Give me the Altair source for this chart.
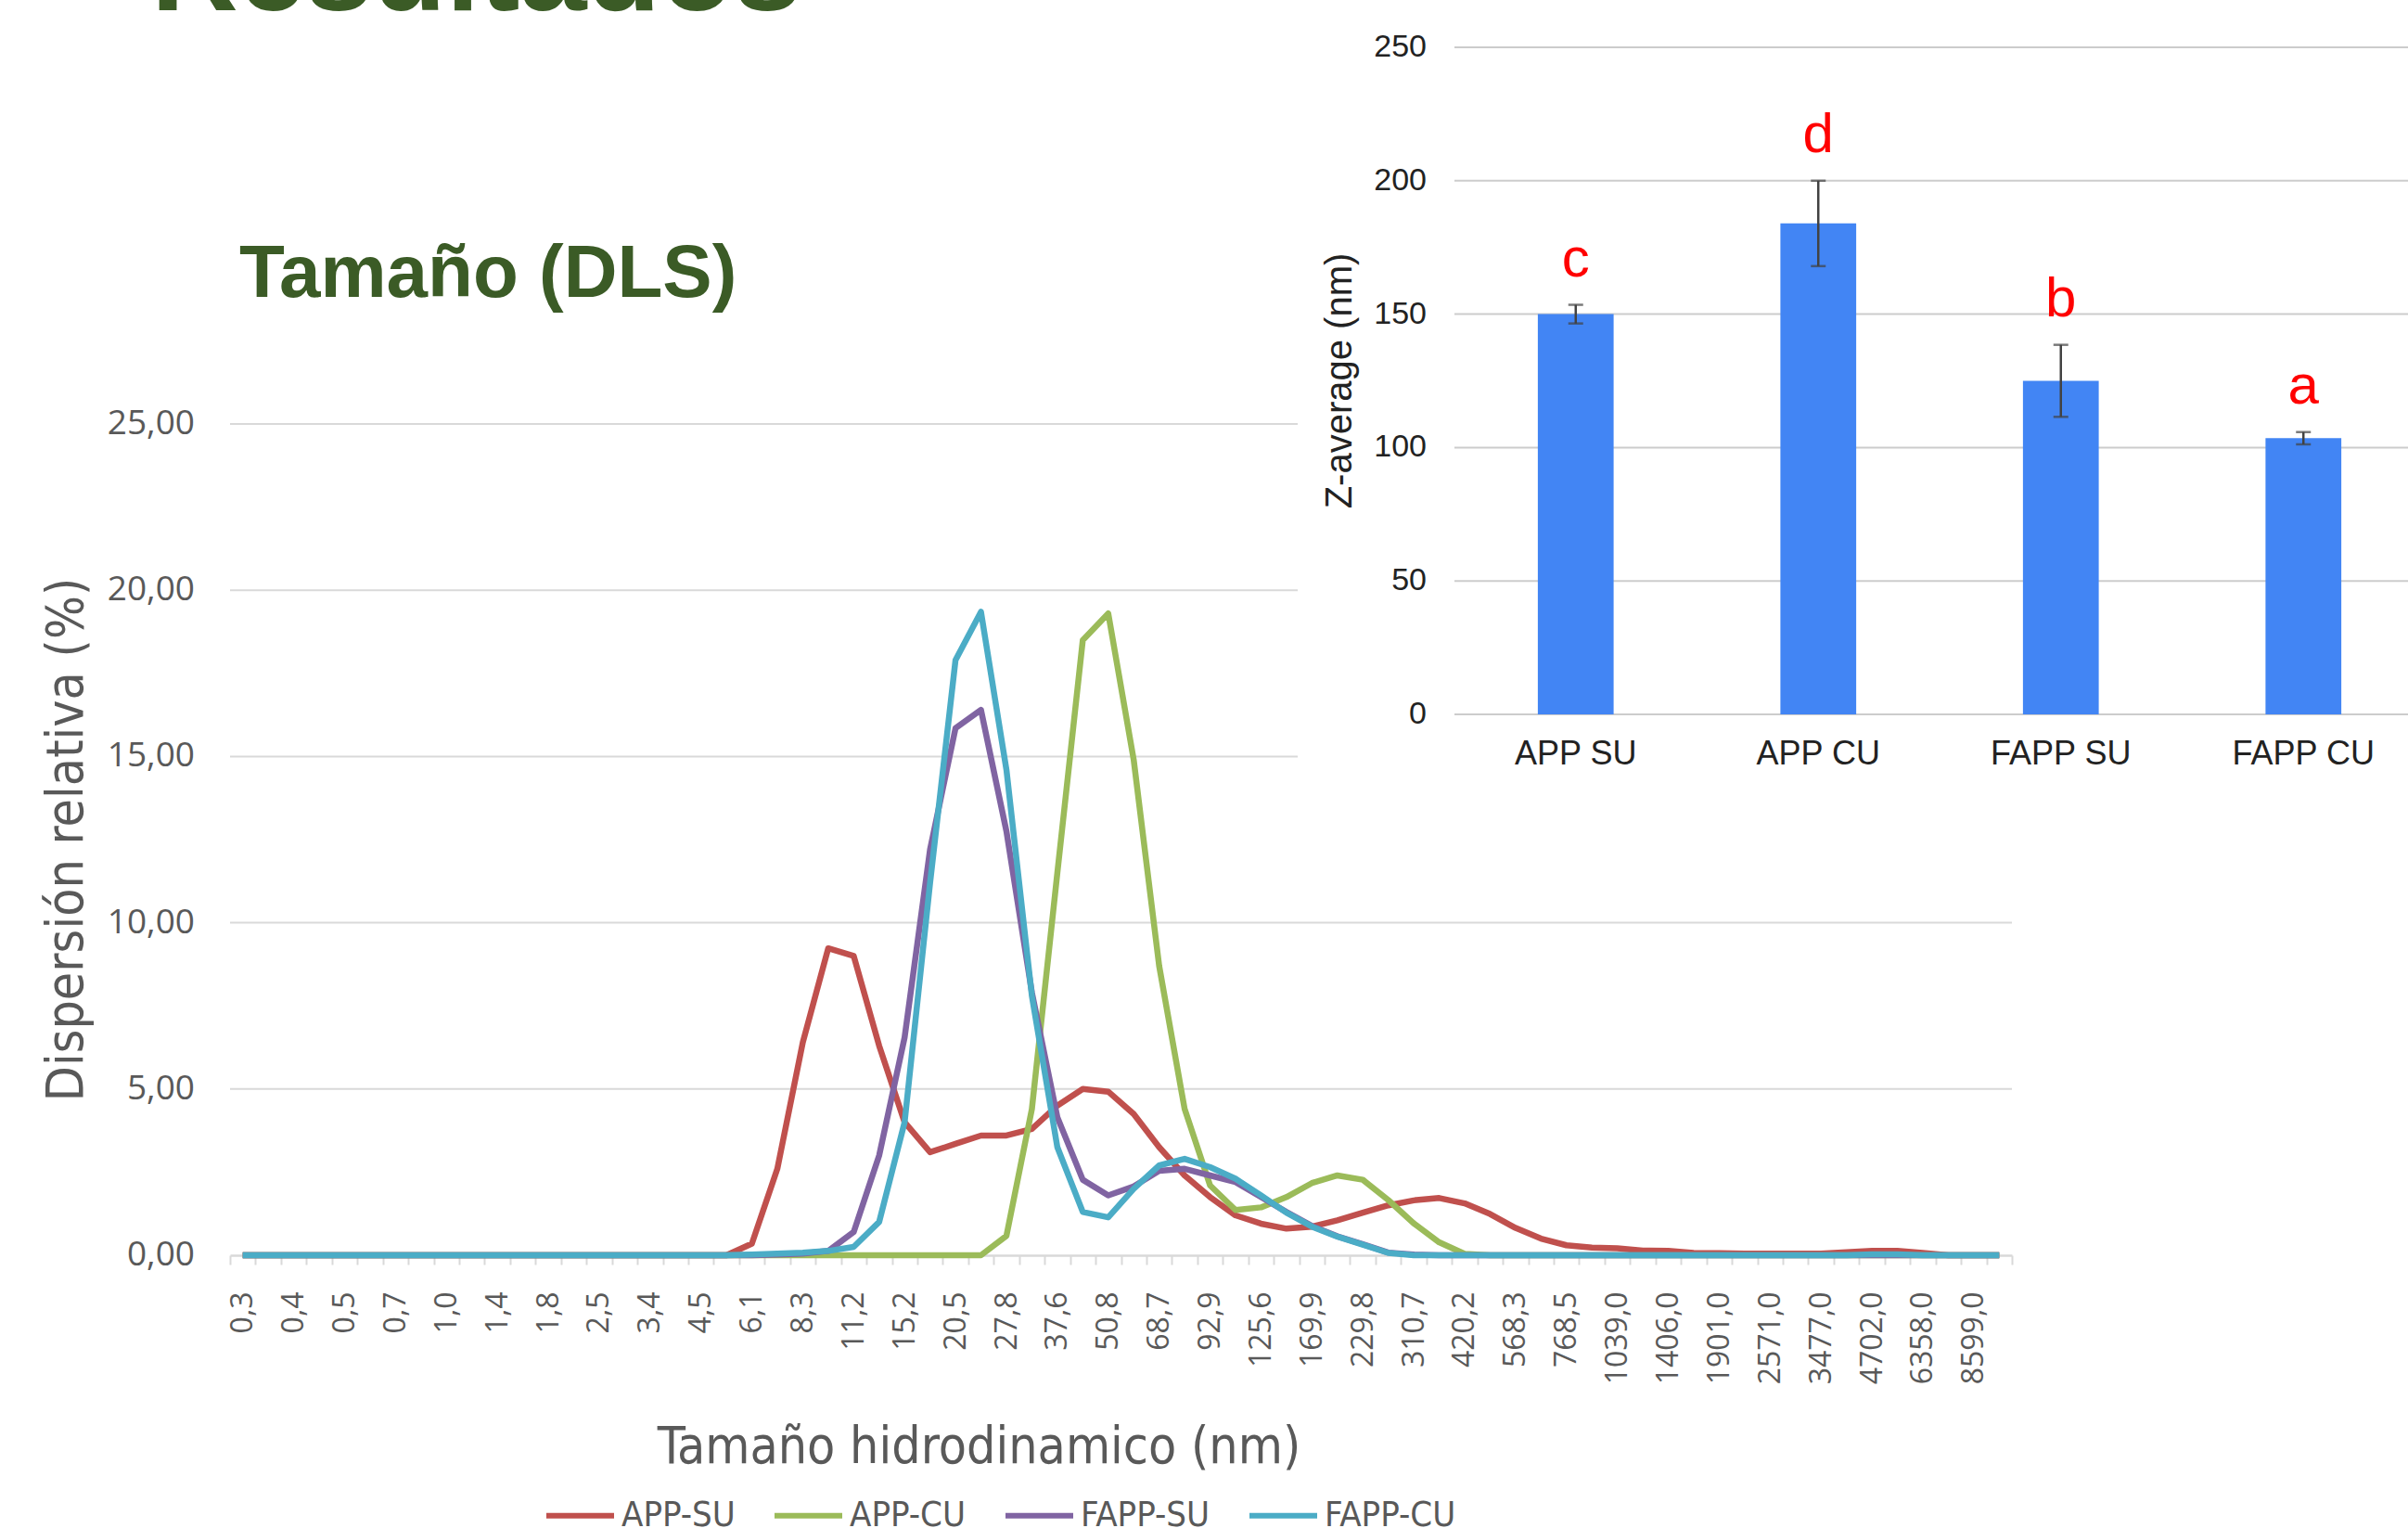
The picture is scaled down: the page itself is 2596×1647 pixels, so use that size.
import altair as alt
import pandas as pd

# ---------------- data ----------------
cats = ['0,3','0,35','0,4','0,47','0,5','0,6','0,7','0,8','1,0','1,2','1,4','1,6','1,8','2,1','2,5','2,9',
        '3,4','3,9','4,5','5,3','6,1','7,1','8,3','9,6','11,2','13,0','15,2','17,6','20,5','23,9','27,8',
        '32,3','37,6','43,7','50,8','59,1','68,7','79,9','92,9','108,0','125,6','146,1','169,9','197,6',
        '229,8','267,2','310,7','361,3','420,2','488,7','568,3','660,9','768,5','893,7','1039,0','1209,0',
        '1406,0','1635,0','1901,0','2211,0','2571,0','2990,0','3477,0','4044,0','4702,0','5468,0','6358,0',
        '7394,0','8599,0','10000,0']
shown_labels = cats[::2]

app_su = [0]*20 + [0.35, 2.6, 6.4, 9.23, 9.0, 6.3, 4.0, 3.1, 3.35, 3.6, 3.6, 3.8, 4.5, 5.0, 4.92, 4.25,
                   3.25, 2.4, 1.75, 1.2, 0.95, 0.8, 0.86, 1.05, 1.28, 1.5, 1.65, 1.72, 1.56, 1.24, 0.82,
                   0.5, 0.3, 0.23, 0.21, 0.14, 0.13, 0.07, 0.06, 0.05, 0.05, 0.05, 0.05, 0.09, 0.13, 0.13,
                   0.07, 0, 0, 0]
app_cu = [0]*30 + [0.58, 4.4, 11.5, 18.5, 19.3, 14.9, 8.7, 4.4, 2.1, 1.36, 1.44, 1.75, 2.17, 2.4, 2.27,
                   1.66, 0.96, 0.39, 0.04] + [0]*21
fapp_su = [0]*21 + [0.02, 0.05, 0.13, 0.7, 3.0, 6.55, 12.2, 15.85, 16.4, 12.75, 7.9, 4.15, 2.27, 1.8,
                    2.07, 2.54, 2.6, 2.4, 2.2, 1.75, 1.3, 0.88, 0.57, 0.33, 0.08, 0.02] + [0]*23
fapp_cu = [0]*20 + [0.02, 0.05, 0.08, 0.13, 0.25, 1.0, 4.0, 11.2, 17.9, 19.35, 14.6, 7.8, 3.25, 1.3,
                    1.14, 2.0, 2.7, 2.9, 2.65, 2.3, 1.8, 1.28, 0.86, 0.56, 0.32, 0.07] + [0]*18 \
          + [0.03, 0.03] + [0]*4

series_names = ['APP-SU', 'APP-CU', 'FAPP-SU', 'FAPP-CU']
series_colors = ['#C0504D', '#9BBB59', '#8064A2', '#4BACC6']

line_yticks = [0, 5, 10, 15, 20, 25]
line_ytick_labels = ['0,00', '5,00', '10,00', '15,00', '20,00', '25,00']

samples = ['APP SU', 'APP CU', 'FAPP SU', 'FAPP CU']
zavg = [150, 184, 125, 103.5]
zerr = [3.5, 16, 13.5, 2.3]
letters = ['c', 'd', 'b', 'a']
bar_yticks = [0, 50, 100, 150, 200, 250]

# ---------------- layout ----------------
W, H = 2596, 1647
LX0, LX1, LXS = 248, 2169, 1399     # line-chart plot area (x), short grid end
LY0, LY25 = 1353, 457               # y pixel of 0 and 25
BX0, BX1 = 1568, 2614               # bar chart category range
BY0, BY250 = 770, 51                # y pixel of 0 and 250
NARROW = "'Liberation Sans Narrow', 'DejaVu Sans Condensed', sans-serif"
GREEN = '#3B5B26'
GREY = '#595959'
DARK = '#222222'

rows = []
for name, vals in zip(series_names, [app_su, app_cu, fapp_su, fapp_cu]):
    for c, v in zip(cats, vals):
        rows.append({'cat': c, 'serie': name, 'value': v})
line_df = pd.DataFrame(rows)

xs = alt.Scale(type='band', domain=cats, range=[LX0, LX1], paddingInner=0, paddingOuter=0)
ys = alt.Scale(domain=[0, 25], range=[LY0, LY25], nice=False, zero=True)

shown_js = "[" + ",".join("'%s'" % s for s in shown_labels) + "]"

ytick_df = pd.DataFrame({'value': line_yticks, 'lab': line_ytick_labels})

grid_full = alt.Chart(ytick_df).transform_filter('datum.value > 0 && datum.value <= 10').mark_rule(
    color='#D9D9D9', strokeWidth=2).encode(
    y=alt.Y('value:Q', scale=ys, axis=None), x=alt.value(LX0), x2=alt.value(LX1))
grid_short = alt.Chart(ytick_df).transform_filter('datum.value > 10').mark_rule(
    color='#D9D9D9', strokeWidth=2).encode(
    y=alt.Y('value:Q', scale=ys, axis=None), x=alt.value(LX0), x2=alt.value(LXS))
ylabels = alt.Chart(ytick_df).mark_text(
    font='Open Sans', fontSize=37, color=GREY, align='right', baseline='middle').encode(
    y=alt.Y('value:Q', scale=ys, axis=None), x=alt.value(LX0 - 38), text='lab:N')
ytitle = alt.Chart(pd.DataFrame({'t': ['Dispersión relativa (%)']})).mark_text(
    font=NARROW, fontSize=55, color=GREY, angle=270, align='center', baseline='middle').encode(
    x=alt.value(72), y=alt.value((LY0 + LY25) / 2), text='t:N')

lines = alt.Chart(line_df).mark_line(strokeWidth=6.5, strokeJoin='round').encode(
    x=alt.X('cat:O', sort=cats, scale=xs, axis=alt.Axis(
        orient='bottom', offset=LY0 - H, labelAngle=-90,
        labelExpr=f"indexof({shown_js}, datum.value) >= 0 ? datum.value : ''",
        labelOverlap=False, labelFont='Open Sans', labelFontSize=32, labelColor=GREY,
        labelPadding=29, tickBand='extent', tickSize=10, tickColor='#D9D9D9', tickWidth=2,
        domainColor='#D9D9D9', domainWidth=2.5, grid=False,
        title='Tamaño hidrodinamico (nm)', titleFont=NARROW, titleFontSize=55,
        titleFontWeight='normal', titleColor=GREY, titleX=1055, titleY=223,
        titleBaseline='alphabetic', titleAlign='center')),
    y=alt.Y('value:Q', scale=ys, axis=None),
    color=alt.Color('serie:N', scale=alt.Scale(domain=series_names, range=series_colors),
                    legend=alt.Legend(orient='none', legendX=586, legendY=1594,
                                      direction='horizontal', title=None, symbolType='stroke',
                                      symbolSize=5329, symbolStrokeWidth=6, labelFont=NARROW,
                                      labelFontSize=38, labelColor=GREY, columnPadding=30,
                                      labelOffset=5, padding=0)),
)
line_layer = alt.layer(grid_full, grid_short, ylabels, ytitle, lines)

# ---------------- bar chart ----------------
bar_df = pd.DataFrame({'sample': samples, 'zavg': zavg, 'err': zerr, 'letter': letters})
bar_df['lo'] = bar_df['zavg'] - bar_df['err']
bar_df['hi'] = bar_df['zavg'] + bar_df['err']
btick_df = pd.DataFrame({'zavg': bar_yticks, 'lab': [str(v) for v in bar_yticks]})

bxs = alt.Scale(type='band', domain=samples, range=[BX0, BX1], paddingInner=0.6875, paddingOuter=0.34375)
bys = alt.Scale(domain=[0, 250], range=[BY0, BY250], nice=False, zero=True)

bx_plain = alt.X('sample:N', sort=samples, scale=bxs, axis=None)
by_plain = alt.Y('zavg:Q', scale=bys, axis=None)

bgrid = alt.Chart(btick_df).mark_rule(color='#CCCCCC', strokeWidth=2).encode(
    y=by_plain, x=alt.value(BX0), x2=alt.value(BX1))
bylabels = alt.Chart(btick_df).mark_text(
    font='Liberation Sans', fontSize=34, color=DARK, align='right', baseline='middle').encode(
    y=by_plain, x=alt.value(BX0 - 30), text='lab:N')
bytitle = alt.Chart(pd.DataFrame({'t': ['Z-average (nm)']})).mark_text(
    font='Liberation Sans', fontSize=40, color=DARK, angle=270, align='center', baseline='middle').encode(
    x=alt.value(1445), y=alt.value((BY0 + BY250) / 2), text='t:N')
bxlabels = alt.Chart(bar_df).mark_text(
    font='Liberation Sans', fontSize=36, color=DARK, align='center', baseline='top').encode(
    x=bx_plain, y=alt.value(BY0 + 26), text='sample:N')

bars = alt.Chart(bar_df).mark_bar(color='#4285F4').encode(x=bx_plain, y=by_plain)
stem = alt.Chart(bar_df).mark_rule(color='#424242', strokeWidth=2.5).encode(
    x=bx_plain, y=alt.Y('lo:Q', scale=bys, axis=None), y2='hi:Q')
cap_lo = alt.Chart(bar_df).mark_tick(color='#424242', thickness=2.5, size=16).encode(
    x=bx_plain, y=alt.Y('lo:Q', scale=bys, axis=None))
cap_hi = alt.Chart(bar_df).mark_tick(color='#424242', thickness=2.5, size=16).encode(
    x=bx_plain, y=alt.Y('hi:Q', scale=bys, axis=None))
letter_txt = alt.Chart(bar_df).mark_text(font='Liberation Sans', fontSize=60, color='#FF0000',
                                         baseline='alphabetic', dy=-31).encode(
    x=bx_plain, y=alt.Y('hi:Q', scale=bys, axis=None), text='letter:N')
bar_layer = alt.layer(bgrid, bylabels, bytitle, bxlabels, bars, stem, cap_lo, cap_hi, letter_txt)

# ---------------- slide titles ----------------
res_txt = alt.Chart(pd.DataFrame({'t': ['Resultados']})).mark_text(
    font='Liberation Sans', fontWeight='bold', fontSize=130, color=GREEN,
    align='left', baseline='alphabetic').encode(text='t:N', x=alt.value(163), y=alt.value(11))
tam_txt = alt.Chart(pd.DataFrame({'t': ['Tamaño (DLS)']})).mark_text(
    font='Liberation Sans', fontWeight='bold', fontSize=80, color=GREEN,
    align='left', baseline='alphabetic').encode(text='t:N', x=alt.value(258), y=alt.value(320))

chart = alt.layer(line_layer, bar_layer, res_txt, tam_txt).resolve_scale(
    x='independent', y='independent'
).properties(
    width=W, height=H, autosize=alt.AutoSizeParams(type='none'), padding=0, background='white'
).configure_view(stroke=None)

chart.save("out.html", embed_options={"renderer": "svg", "actions": False})
